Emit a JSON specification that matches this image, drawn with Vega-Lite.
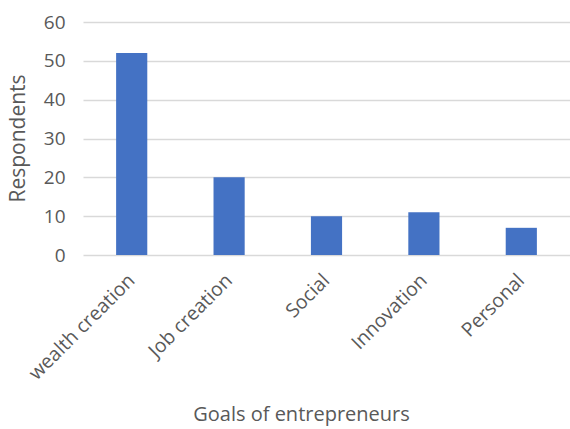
{
  "$schema": "https://vega.github.io/schema/vega-lite/v6.json",
  "autosize": "none",
  "padding": {"left": 83, "top": 22, "right": 0, "bottom": 174},
  "width": 487,
  "height": 233,
  "background": "white",
  "config": {
    "view": {"stroke": null},
    "font": "Open Sans"
  },
  "data": {
    "values": [
      {"goal": "wealth creation", "respondents": 52},
      {"goal": "Job creation", "respondents": 20},
      {"goal": "Social", "respondents": 10},
      {"goal": "Innovation", "respondents": 11},
      {"goal": "Personal", "respondents": 7}
    ]
  },
  "mark": {"type": "bar", "color": "#4472C4"},
  "encoding": {
    "x": {
      "field": "goal",
      "type": "nominal",
      "sort": null,
      "scale": {"paddingInner": 0.68, "paddingOuter": 0.34},
      "axis": {
        "title": "Goals of entrepreneurs",
        "titleFont": "Open Sans",
        "titleFontSize": 20,
        "titleFontWeight": "normal",
        "titleColor": "#595959",
        "titleX": 218,
        "titleY": 159,
        "titleAnchor": null,
        "titleAlign": "center",
        "titleBaseline": "middle",
        "labelAngle": -45,
        "labelAlign": "right",
        "labelBaseline": "middle",
        "labelPadding": 22,
        "labelFontSize": 19.5,
        "labelColor": "#595959",
        "labelFont": "Open Sans",
        "ticks": false,
        "domain": false,
        "grid": false
      }
    },
    "y": {
      "field": "respondents",
      "type": "quantitative",
      "scale": {"domain": [0, 60]},
      "axis": {
        "title": "Respondents",
        "titleFont": "Open Sans",
        "titleFontSize": 21,
        "titleFontWeight": "normal",
        "titleColor": "#595959",
        "titleX": -65,
        "titleY": 116,
        "titleAnchor": null,
        "titleAlign": "center",
        "titleBaseline": "middle",
        "values": [0, 10, 20, 30, 40, 50, 60],
        "labelFontSize": 19,
        "labelColor": "#595959",
        "labelFont": "Open Sans",
        "labelPadding": 18,
        "ticks": false,
        "domain": false,
        "grid": true,
        "gridColor": "#d9d9d9",
        "gridWidth": 1.5
      }
    }
  }
}
